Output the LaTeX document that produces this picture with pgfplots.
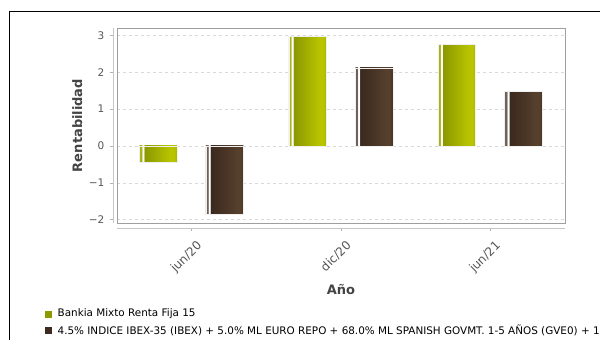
\documentclass[border=0pt]{standalone}
\usepackage{pgfplots}
\pgfplotsset{compat=1.18}
\usepackage{fontspec}
\setmainfont{DejaVu Sans}

\definecolor{gstrip}{HTML}{A9B318}
\definecolor{gdark}{HTML}{8A9700}
\definecolor{gbright}{HTML}{B8C400}
\definecolor{gedge}{HTML}{A8B400}
\definecolor{gleg}{HTML}{8C9A00}
\definecolor{bstrip}{HTML}{6F6058}
\definecolor{bdark}{HTML}{3A291E}
\definecolor{bbright}{HTML}{553F2D}
\definecolor{bedge}{HTML}{4A3626}
\definecolor{bleg}{HTML}{3D2B20}
\definecolor{txtgray}{HTML}{555555}
\definecolor{lblgray}{HTML}{444444}

\pgfdeclarehorizontalshading{greenbar}{100bp}{color(0bp)=(gstrip); color(27.8bp)=(gstrip); color(28.3bp)=(white); color(30.6bp)=(white); color(31.1bp)=(gdark); color(66bp)=(gbright); color(71bp)=(gbright); color(75bp)=(gedge); color(100bp)=(gedge)}
\pgfdeclarehorizontalshading{brownbar}{100bp}{color(0bp)=(bstrip); color(27.8bp)=(bstrip); color(28.3bp)=(white); color(30.6bp)=(white); color(31.1bp)=(bdark); color(66bp)=(bbright); color(71bp)=(bbright); color(75bp)=(bedge); color(100bp)=(bedge)}

\pgfplotsset{
  gbar/.style={ybar, bar width=37.5pt, bar shift=-33.5pt, shading=greenbar, draw=white!88!gray, line width=0.4pt, forget plot},
  bbar/.style={ybar, bar width=37.5pt, bar shift=33pt, shading=brownbar, draw=white!88!gray, line width=0.4pt, forget plot},
}

\begin{document}
\begin{tikzpicture}[x=1pt,y=1pt]
\path[use as bounding box] (0,0) rectangle (600,-340);
\draw[black, line width=1pt] (9,-341) -- (9,-11) -- (601,-11);
\begin{axis}[
  at={(117pt,-28pt)}, anchor=north west,
  scale only axis, width=448pt, height=195pt,
  xmin=-0.5, xmax=2.5, ymin=-2.09, ymax=3.2,
  axis lines=left,
  axis x line shift=5pt,
  axis y line shift=4pt,
  axis line style={-, draw=gray!45, line width=0.8pt},
  tick style={draw=gray!60, line width=0.6pt},
  major tick length=3pt,
  tick align=outside,
  xtick={0,1,2},
  xticklabels={jun/20,dic/20,jun/21},
  xticklabel style={rotate=45, anchor=north east, font=\fontsize{12}{14}\selectfont, text=txtgray, inner sep=1pt, xshift=-2pt, yshift=-8pt},
  ytick={-2,-1,0,1,2,3},
  yticklabels={−2,−1,0,1,2,3},
  yticklabel style={font=\fontsize{10.5}{12}\selectfont, text=txtgray, inner sep=1pt, xshift=-4.5pt},
  ymajorgrids,
  grid style={dashed, draw=gray!30, line width=0.5pt},
  xlabel={Año},
  ylabel={Rentabilidad},
  label style={font=\bfseries\fontsize{13}{15}\selectfont, text=lblgray},
  xlabel style={yshift=-5pt},
  ylabel style={yshift=2pt},
  after end axis/.code={\draw[gray!75, line width=0.8pt] (rel axis cs:0,0) rectangle (rel axis cs:1,1);},
  legend style={at={(-0.1605,-0.43)}, anchor=north west, draw=none, fill=none,
    font=\fontsize{10.4}{12}\selectfont, row sep=2.5pt, inner sep=0pt,
    cells={anchor=west}, legend columns=1},
  legend cell align=left,
]
\addplot[gbar] coordinates {(0,-0.45)};
\addplot[gbar] coordinates {(1,2.97)};
\addplot[gbar] coordinates {(2,2.75)};
\addplot[bbar] coordinates {(0,-1.86)};
\addplot[bbar] coordinates {(1,2.12)};
\addplot[bbar] coordinates {(2,1.48)};
\addlegendimage{legend image code/.code={\fill[gleg] (0pt,-3pt) rectangle (6pt,3pt);}}
\addlegendentry{\hspace*{4pt}Bankia Mixto Renta Fija 15}
\addlegendimage{legend image code/.code={\fill[bleg] (0pt,-3pt) rectangle (6pt,3pt);}}
\addlegendentry{\hspace*{4pt}4.5\% INDICE IBEX-35 (IBEX) + 5.0\% ML EURO REPO + 68.0\% ML SPANISH GOVMT. 1-5 AÑOS (GVE0) + 1}
\end{axis}
\end{tikzpicture}
\end{document}
